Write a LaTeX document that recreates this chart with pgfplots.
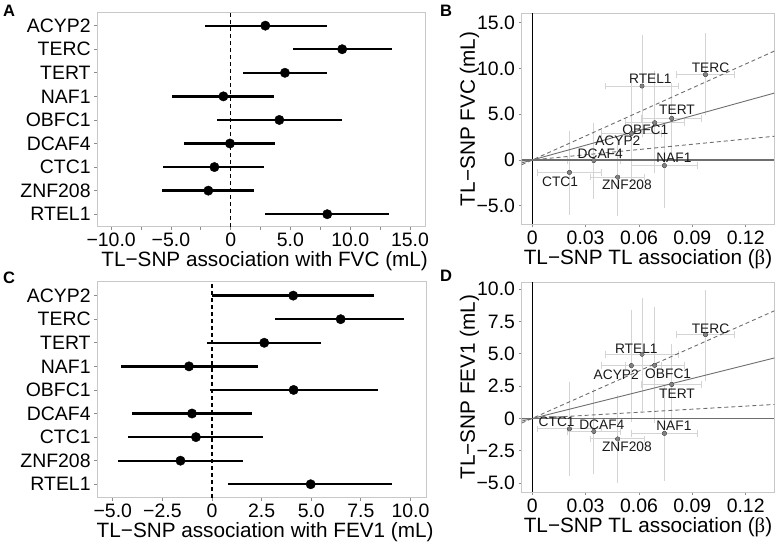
\documentclass[border=0pt]{standalone}
\usepackage{fontspec}
\setmainfont{Liberation Sans}
\newfontfamily\serif{Liberation Serif}
\usepackage{pgfplots}
\pgfplotsset{compat=1.18}
\definecolor{boxgray}{HTML}{C8C8C8}
\definecolor{tickgray}{HTML}{8C8C8C}
\definecolor{ebgray}{HTML}{D4D4D4}
\definecolor{ptgray}{HTML}{808080}
\definecolor{lngray}{HTML}{6E6E6E}
\definecolor{txt}{HTML}{1A1A1A}
\tikzset{lab/.style={font=\fontsize{13.8}{16}\selectfont, text=txt, inner sep=0pt}}
\pgfplotsset{
  base/.style={
    scale only axis, anchor=south west,
    axis line style={boxgray, line width=0.8bp},
    tick style={tickgray, line width=0.8bp},
    tick align=outside, major tick length=3bp,
    xtick pos=bottom, ytick pos=left,
    every tick label/.append style={inner sep=0pt, font=\fontsize{19.5}{22}\selectfont},
    xticklabel style={anchor=base, yshift=-17bp},
    yticklabel style={anchor=east, xshift=-3.5bp},
    every axis x label/.style={at={(axis description cs:0.5,0)}, anchor=base, yshift=-40bp, font=\fontsize{20.8}{24}\selectfont},
  },
  forest/.style={base,
    ytick={1,...,9},
    yticklabels={RTEL1,ZNF208,CTC1,DCAF4,OBFC1,NAF1,TERT,TERC,ACYP2},
    x label style={xshift=3.5bp},
  },
  scat/.style={base, width=252.6bp,
    xmin=-0.00596, xmax=0.1361,
    xtick={0,0.03,0.06,0.09,0.12},
    xticklabels={0,0.03,0.06,0.09,0.12},
    every axis y label/.style={at={(axis description cs:-0.1849,0.5)}, rotate=90, anchor=base, font=\fontsize{20.8}{24}\selectfont},
    xlabel={TL−SNP TL association ({\serif β})},
  },
  yeb/.style={only marks, mark=none,
    error bars/.cd, y dir=both, y explicit,
    error mark=-, error mark options={ebgray, mark size=3.3bp, line width=0.9bp},
    error bar style={line width=0.9bp, ebgray}},
  xeb/.style={only marks, mark=none,
    error bars/.cd, x dir=both, x explicit,
    error mark=|, error mark options={ebgray, mark size=3.3bp, line width=0.9bp},
    error bar style={line width=0.9bp, ebgray}},
}
\begin{document}
\begin{tikzpicture}
\useasboundingbox (0bp,0bp) rectangle (780bp,544bp);

% ---------------- A ----------------
\begin{axis}[forest, at={(97.3bp,317.3bp)}, width=327.7bp, height=214.7bp,
  xmin=-11.16, xmax=16.26, ymin=0.47, ymax=9.58,
  xtick={-10,-7.5,...,15},
  xticklabels={−10.0,,−5.0,,0,,5.0,,10.0,,15.0},
  xlabel={TL−SNP association with FVC (mL)}]
\addplot[black, line width=1.1bp, dash pattern=on 4bp off 3bp] coordinates {(0,0.47) (0,9.58)};
\addplot[only marks, mark=*, mark size=4.7bp, black,
  error bars/.cd, x dir=both, x explicit, error mark=none,
  error bar style={line width=2.3bp, black}] coordinates {
  (2.90,9) += (5.12,0) -= (5.04,0)
  (9.33,8) += (4.17,0) -= (4.09,0)
  (4.54,7) += (3.56,0) -= (3.48,0)
  (-0.61,6) += (4.23,0) -= (4.26,0)
  (4.07,5) += (5.26,0) -= (5.18,0)
  (-0.06,4) += (3.76,0) -= (3.81,0)
  (-1.36,3) += (4.15,0) -= (4.27,0)
  (-1.87,2) += (3.85,0) -= (3.90,0)
  (8.08,1) += (5.19,0) -= (5.21,0)
};
\end{axis}

% ---------------- C ----------------
\begin{axis}[forest, at={(97.3bp,46.3bp)}, width=328.7bp, height=216.7bp,
  xmin=-5.78, xmax=10.78, ymin=0.43, ymax=9.62,
  xtick={-5,-2.5,...,10},
  xticklabels={−5.0,−2.5,0,2.5,5.0,7.5,10.0},
  xlabel={TL−SNP association with FEV1 (mL)}]
\addplot[black, line width=1.1bp, dash pattern=on 4bp off 3bp] coordinates {(0,0.43) (0,9.62)};
\addplot[only marks, mark=*, mark size=4.7bp, black,
  error bars/.cd, x dir=both, x explicit, error mark=none,
  error bar style={line width=2.3bp, black}] coordinates {
  (4.09,9) += (4.06,0) -= (4.09,0)
  (6.48,8) += (3.18,0) -= (3.29,0)
  (2.63,7) += (2.84,0) -= (2.86,0)
  (-1.16,6) += (3.46,0) -= (3.42,0)
  (4.11,5) += (4.23,0) -= (4.21,0)
  (-1.01,4) += (3.04,0) -= (3.03,0)
  (-0.81,3) += (3.39,0) -= (3.43,0)
  (-1.59,2) += (3.17,0) -= (3.14,0)
  (4.97,1) += (4.10,0) -= (4.16,0)
};
\end{axis}

% ---------------- B ----------------
\begin{axis}[scat, at={(521.7bp,319.7bp)}, height=211bp,
  ymin=-7.03, ymax=16.03,
  ytick={-5,0,5,10,15}, yticklabels={−5.0,0,5.0,10.0,15.0},
  ylabel={TL−SNP FVC (mL)}]
\addplot[yeb] coordinates {
  (0.0557,2.90) += (0,5.12) -= (0,5.04)
  (0.0974,9.33) += (0,4.17) -= (0,4.09)
  (0.0784,4.54) += (0,3.56) -= (0,3.48)
  (0.0743,-0.61) += (0,4.23) -= (0,4.26)
  (0.0688,4.07) += (0,5.26) -= (0,5.18)
  (0.0346,-0.06) += (0,3.76) -= (0,3.81)
  (0.0209,-1.36) += (0,4.15) -= (0,4.27)
  (0.0480,-1.87) += (0,3.85) -= (0,3.90)
  (0.0617,8.08) += (0,5.19) -= (0,5.21)
};
\addplot[xeb] coordinates {
  (0.0557,2.90) +- (0.017,0)
  (0.0974,9.33) +- (0.0165,0)
  (0.0784,4.54) +- (0.017,0)
  (0.0743,-0.61) +- (0.0183,0)
  (0.0688,4.07) +- (0.0165,0)
  (0.0346,-0.06) +- (0.015,0)
  (0.0209,-1.36) +- (0.018,0)
  (0.0480,-1.87) +- (0.0153,0)
  (0.0617,8.08) +- (0.0207,0)
};
\addplot[black, line width=0.9bp] coordinates {(0,-7.03) (0,16.03)};
\addplot[lngray, line width=1.3bp] coordinates {(-0.00596,0) (0.1361,0)};
\addplot[lngray, line width=0.9bp] coordinates {(-0.00596,-0.32) (0.1361,7.31)};
\addplot[lngray, line width=0.9bp, dash pattern=on 4bp off 3bp] coordinates {(-0.00596,-0.52) (0.1361,11.90)};
\addplot[lngray, line width=0.9bp, dash pattern=on 4bp off 3bp] coordinates {(-0.00596,-0.11) (0.1361,2.59)};
\addplot[only marks, mark=*, mark size=2bp, ptgray] coordinates {
  (0.0557,2.90) (0.0974,9.33) (0.0784,4.54) (0.0743,-0.61) (0.0688,4.07)
  (0.0346,-0.06) (0.0209,-1.36) (0.0480,-1.87) (0.0617,8.08)};
\node[lab] at (axis cs:0.1002,10.11) {TERC};
\node[lab] at (axis cs:0.0664,8.84) {RTEL1};
\node[lab] at (axis cs:0.0814,5.45) {TERT};
\node[lab] at (axis cs:0.0636,3.27) {OBFC1};
\node[lab] at (axis cs:0.0481,2.11) {ACYP2};
\node[lab] at (axis cs:0.0382,0.65) {DCAF4};
\node[lab] at (axis cs:0.0796,0.25) {NAF1};
\node[lab] at (axis cs:0.0156,-2.36) {CTC1};
\node[lab] at (axis cs:0.0532,-2.73) {ZNF208};
\end{axis}

% ---------------- D ----------------
\begin{axis}[scat, at={(521.7bp,52bp)}, height=209.7bp,
  ymin=-5.7, ymax=10.54,
  ytick={-5,-2.5,0,2.5,5,7.5,10}, yticklabels={−5.0,−2.5,0,2.5,5.0,7.5,10.0},
  ylabel={TL−SNP FEV1 (mL)}]
\addplot[yeb] coordinates {
  (0.0557,4.09) += (0,4.06) -= (0,4.09)
  (0.0974,6.48) += (0,3.18) -= (0,3.29)
  (0.0784,2.63) += (0,2.84) -= (0,2.86)
  (0.0743,-1.16) += (0,3.46) -= (0,3.42)
  (0.0688,4.11) += (0,4.23) -= (0,4.21)
  (0.0346,-1.01) += (0,3.04) -= (0,3.03)
  (0.0209,-0.81) += (0,3.39) -= (0,3.43)
  (0.0480,-1.59) += (0,3.17) -= (0,3.14)
  (0.0617,4.97) += (0,4.10) -= (0,4.16)
};
\addplot[xeb] coordinates {
  (0.0557,4.09) +- (0.017,0)
  (0.0974,6.48) +- (0.0165,0)
  (0.0784,2.63) +- (0.017,0)
  (0.0743,-1.16) +- (0.0183,0)
  (0.0688,4.11) +- (0.0165,0)
  (0.0346,-1.01) +- (0.015,0)
  (0.0209,-0.81) +- (0.018,0)
  (0.0480,-1.59) +- (0.0153,0)
  (0.0617,4.97) +- (0.0207,0)
};
\addplot[black, line width=0.9bp] coordinates {(0,-5.7) (0,10.54)};
\addplot[lngray, line width=1.3bp] coordinates {(-0.00596,0) (0.1361,0)};
\addplot[lngray, line width=0.9bp] coordinates {(-0.00596,-0.21) (0.1361,4.68)};
\addplot[lngray, line width=0.9bp, dash pattern=on 4bp off 3bp] coordinates {(-0.00596,-0.36) (0.1361,8.33)};
\addplot[lngray, line width=0.9bp, dash pattern=on 4bp off 3bp] coordinates {(-0.00596,-0.05) (0.1361,1.08)};
\addplot[only marks, mark=*, mark size=2bp, ptgray] coordinates {
  (0.0557,4.09) (0.0974,6.48) (0.0784,2.63) (0.0743,-1.16) (0.0688,4.11)
  (0.0346,-1.01) (0.0209,-0.81) (0.0480,-1.59) (0.0617,4.97)};
\node[lab] at (axis cs:0.1002,6.93) {TERC};
\node[lab] at (axis cs:0.0585,5.43) {RTEL1};
\node[lab] at (axis cs:0.0472,3.36) {ACYP2};
\node[lab] at (axis cs:0.0764,3.44) {OBFC1};
\node[lab] at (axis cs:0.0814,1.89) {TERT};
\node[lab] at (axis cs:0.0137,-0.26) {CTC1};
\node[lab] at (axis cs:0.0391,-0.52) {DCAF4};
\node[lab] at (axis cs:0.0796,-0.59) {NAF1};
\node[lab] at (axis cs:0.0532,-2.20) {ZNF208};
\end{axis}

% panel letters
\node[anchor=base west, inner sep=0pt, font=\bfseries\fontsize{16.6}{19}\selectfont] at (3bp,527bp) {A};
\node[anchor=base west, inner sep=0pt, font=\bfseries\fontsize{16.6}{19}\selectfont] at (440bp,527.3bp) {B};
\node[anchor=base west, inner sep=0pt, font=\bfseries\fontsize{16.6}{19}\selectfont] at (3bp,260bp) {C};
\node[anchor=base west, inner sep=0pt, font=\bfseries\fontsize{16.6}{19}\selectfont] at (440bp,262bp) {D};
\end{tikzpicture}
\end{document}
